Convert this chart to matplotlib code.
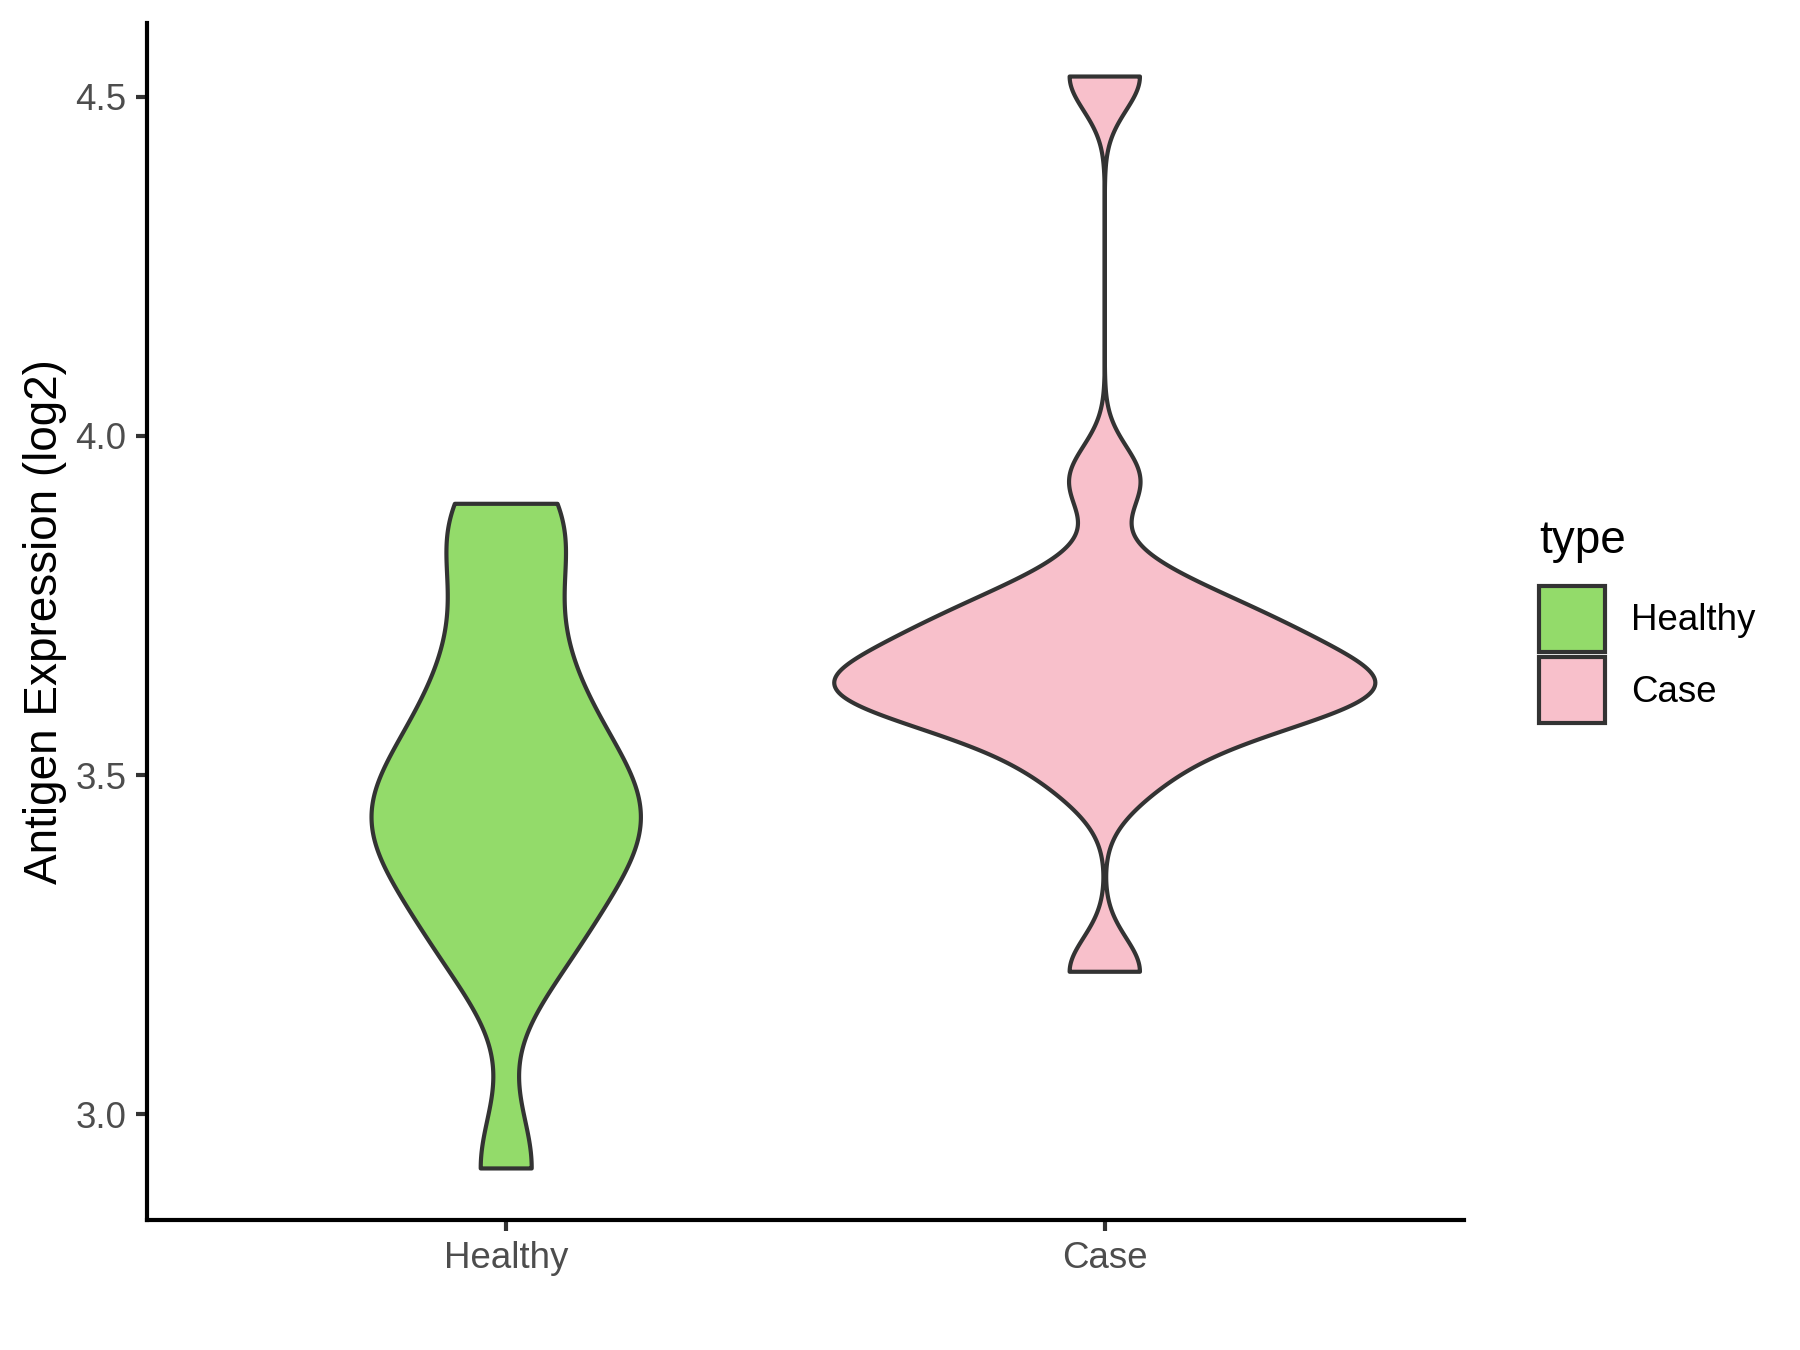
# Violin plot of antigen expression, Healthy vs Case (ggplot-like look)
import numpy as np
import matplotlib
matplotlib.use('Agg')
import matplotlib.pyplot as plt
from matplotlib.patches import Patch

plt.rcParams['font.family'] = ['Liberation Sans', 'DejaVu Sans']

groups = ["Healthy", "Case"]
healthy = [2.92, 3.21, 3.28, 3.34, 3.38, 3.42, 3.45, 3.48, 3.52, 3.58, 3.64, 3.74, 3.85, 3.90]
case = [3.21, 3.49, 3.55, 3.58, 3.60, 3.62, 3.625, 3.63, 3.64, 3.66, 3.68, 3.71,
        3.725, 3.74, 3.79, 3.935, 4.53]
bandwidths = [0.085, 0.05]
fill_colors = ["#93DB6A", "#F8C0CB"]
max_widths = [0.45, 0.904]


def trimmed_kde(vals, bw, n=512):
    vals = np.asarray(vals)
    grid = np.linspace(vals.min(), vals.max(), n)
    dens = np.exp(-0.5 * ((grid[:, None] - vals[None, :]) / bw) ** 2).sum(axis=1)
    dens /= len(vals) * bw * np.sqrt(2 * np.pi)
    return grid, dens


fig = plt.figure(figsize=(6, 4.5), dpi=300)
ax = fig.add_axes([0.0817, 0.0963, 0.8133 - 0.0817, 0.983 - 0.0963])

for i, vals in enumerate([healthy, case]):
    pos = i + 1
    y, d = trimmed_kde(vals, bandwidths[i])
    half = d / d.max() * max_widths[i] / 2
    xs = np.concatenate([pos - half, (pos + half)[::-1], [pos - half[0]]])
    ys = np.concatenate([y, y[::-1], [y[0]]])
    ax.fill(xs, ys, facecolor=fill_colors[i], edgecolor="#333333", linewidth=1.0, joinstyle='round')

ax.set_xlim(0.4, 2.6)
ax.set_ylim(2.844, 4.609)
ax.set_xticks([1, 2])
ax.set_xticklabels(groups)
ax.set_yticks([3.0, 3.5, 4.0, 4.5])
ax.set_yticklabels(["3.0", "3.5", "4.0", "4.5"])
ax.tick_params(axis='both', labelsize=8.8, labelcolor="#4D4D4D", color="#333333",
               length=2.75, width=1.0, pad=2.2)
for s in ["top", "right"]:
    ax.spines[s].set_visible(False)
for s in ["left", "bottom"]:
    ax.spines[s].set_linewidth(1.0)
    ax.spines[s].set_color("black")
ax.set_ylabel("Antigen Expression (log2)", fontsize=11, color="black", labelpad=2)

handles = [Patch(facecolor=c, edgecolor="#333333", linewidth=1.0) for c in fill_colors]
leg = ax.legend(handles, groups, title="type", loc='center left',
                bbox_to_anchor=(0.847, 0.540), bbox_transform=fig.transFigure,
                frameon=False, fontsize=8.8, title_fontsize=11,
                handlelength=1.8, handleheight=2.385, labelspacing=0.15,
                handletextpad=0.7, borderaxespad=0)
leg._legend_box.align = "left"
leg._legend_box.sep = 5.6  # more room under the "type" title

fig.savefig("out.png", dpi=300)
